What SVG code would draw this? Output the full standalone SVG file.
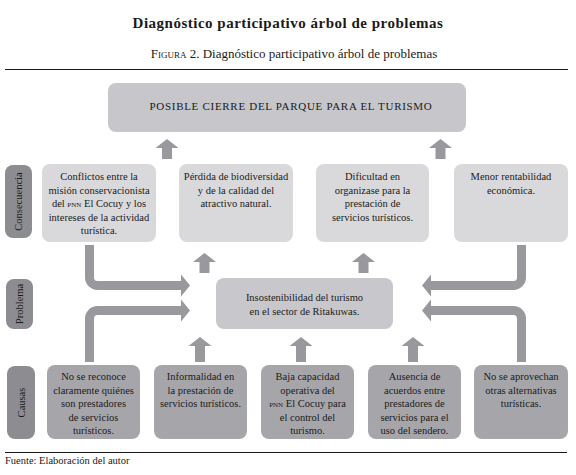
<svg xmlns="http://www.w3.org/2000/svg" width="576" height="475" viewBox="0 0 576 475" font-family="'Liberation Serif', 'DejaVu Serif', serif">
<defs>
<style>
text{font-family:'Liberation Serif','DejaVu Serif',serif;fill:#1a1a1a}
.t{font-size:10.5px;text-anchor:middle}
.lab{font-size:10.5px;text-anchor:middle}
.top{fill:#c6c6cb}
.cons{fill:#d9d9dc}
.prob{fill:#c8c8cc}
.cause{fill:#a6a6aa}
.label{fill:#8d8d91}
.shaft{fill:none;stroke:#99999d;stroke-width:9}
.head{fill:#99999d}
.sc{font-variant:small-caps}
</style>
<path id="upS" d="M-11.5 9 L0 0 L11.5 9 L5 9 L5 20 L-5 20 L-5 9 Z" fill="#99999d"/>
<path id="upL" d="M-11.5 9 L0 0 L11.5 9 L5 9 L5 25 L-5 25 L-5 9 Z" fill="#99999d"/>
</defs>
<rect width="576" height="475" fill="#ffffff"/>
<text x="288" y="28" style="font-size:15px;font-weight:bold;text-anchor:middle;letter-spacing:0.5px">Diagnóstico participativo árbol de problemas</text>
<text x="294" y="58" style="font-size:13px;text-anchor:middle"><tspan class="sc">Figura</tspan> 2. Diagnóstico participativo árbol de problemas</text>
<line x1="5" y1="69.5" x2="568" y2="69.5" stroke="#1a1a1a" stroke-width="1"/>

<g id="connectors">
<use href="#upS" x="167" y="139"/>
<use href="#upS" x="440.5" y="139"/>
<use href="#upS" x="204.5" y="253"/>
<use href="#upS" x="363.5" y="253"/>
<use href="#upL" x="200" y="337"/>
<use href="#upL" x="301" y="337"/>
<use href="#upL" x="413" y="337"/>
<path class="shaft" d="M89.5 245 V277.5 A8 8 0 0 0 97.5 285.5 H183"/>
<polygon class="head" points="181,274.5 190,285.5 181,296.5"/>
<path class="shaft" d="M89.5 362 V318.5 A8 8 0 0 1 97.5 310.5 H183"/>
<polygon class="head" points="181,299.5 190,310.5 181,321.5"/>
<path class="shaft" d="M521.5 245 V277.5 A8 8 0 0 1 513.5 285.5 H429"/>
<polygon class="head" points="431,274.5 422,285.5 431,296.5"/>
<path class="shaft" d="M521.5 362 V318.5 A8 8 0 0 0 513.5 310.5 H429"/>
<polygon class="head" points="431,299.5 422,310.5 431,321.5"/>
</g>

<g id="top">
<rect class="top" x="108" y="83" width="358" height="49" rx="8"/>
<text class="t" x="291" y="110" style="font-size:11px;letter-spacing:0.7px">POSIBLE CIERRE DEL PARQUE PARA EL TURISMO</text>
</g>

<g id="lab-consecuencia">
<rect class="label" x="5" y="165" width="27" height="73" rx="8"/>
<text class="lab" transform="translate(22 201.5) rotate(-90)">Consecuencia</text>
</g>
<g id="lab-problema">
<rect class="label" x="6" y="279" width="27" height="50" rx="8"/>
<text class="lab" transform="translate(23 304) rotate(-90)">Problema</text>
</g>
<g id="lab-causas">
<rect class="label" x="7" y="366" width="28" height="73" rx="8"/>
<text class="lab" transform="translate(24.5 402.5) rotate(-90)">Causas</text>
</g>

<g id="cons1">
<rect class="cons" x="42" y="164" width="114" height="78" rx="8"/>
<text class="t" x="99" y="180">Conflictos entre la</text>
<text class="t" x="99" y="193.5">misión conservacionista</text>
<text class="t" x="99" y="207">del <tspan class="sc">pnn</tspan> El Cocuy y los</text>
<text class="t" x="99" y="220.5">intereses de la actividad</text>
<text class="t" x="99" y="234">turística.</text>
</g>
<g id="cons2">
<rect class="cons" x="179" y="164" width="114" height="78" rx="8"/>
<text class="t" x="236" y="180">Pérdida de biodiversidad</text>
<text class="t" x="236" y="193.5">y de la calidad del</text>
<text class="t" x="236" y="207">atractivo natural.</text>
</g>
<g id="cons3">
<rect class="cons" x="316" y="164" width="113" height="78" rx="8"/>
<text class="t" x="372.5" y="180">Dificultad en</text>
<text class="t" x="372.5" y="193.5">organizase para la</text>
<text class="t" x="372.5" y="207">prestación de</text>
<text class="t" x="372.5" y="220.5">servicios turísticos.</text>
</g>
<g id="cons4">
<rect class="cons" x="454" y="164" width="114" height="78" rx="8"/>
<text class="t" x="511" y="180">Menor rentabilidad</text>
<text class="t" x="511" y="193.5">económica.</text>
</g>

<g id="problema">
<rect class="prob" x="216" y="278" width="177" height="51" rx="8"/>
<text class="t" x="304.5" y="301">Insostenibilidad del turismo</text>
<text class="t" x="304.5" y="314.5">en el sector de Ritakuwas.</text>
</g>

<g id="causa1">
<rect class="cause" x="47" y="365" width="93" height="74" rx="8"/>
<text class="t" x="93.5" y="380">No se reconoce</text>
<text class="t" x="93.5" y="393.5">claramente quiénes</text>
<text class="t" x="93.5" y="407">son prestadores</text>
<text class="t" x="93.5" y="420.5">de servicios</text>
<text class="t" x="93.5" y="434">turísticos.</text>
</g>
<g id="causa2">
<rect class="cause" x="154" y="365" width="93" height="74" rx="8"/>
<text class="t" x="200.5" y="380">Informalidad en</text>
<text class="t" x="200.5" y="393.5">la prestación de</text>
<text class="t" x="200.5" y="407">servicios turísticos.</text>
</g>
<g id="causa3">
<rect class="cause" x="261" y="365" width="93" height="74" rx="8"/>
<text class="t" x="307.5" y="380">Baja capacidad</text>
<text class="t" x="307.5" y="393.5">operativa del</text>
<text class="t" x="307.5" y="407"><tspan class="sc">pnn</tspan> El Cocuy para</text>
<text class="t" x="307.5" y="420.5">el control del</text>
<text class="t" x="307.5" y="434">turismo.</text>
</g>
<g id="causa4">
<rect class="cause" x="368" y="365" width="93" height="74" rx="8"/>
<text class="t" x="414.5" y="380">Ausencia de</text>
<text class="t" x="414.5" y="393.5">acuerdos entre</text>
<text class="t" x="414.5" y="407">prestadores de</text>
<text class="t" x="414.5" y="420.5">servicios para el</text>
<text class="t" x="414.5" y="434">uso del sendero.</text>
</g>
<g id="causa5">
<rect class="cause" x="474" y="365" width="94" height="74" rx="8"/>
<text class="t" x="521" y="380">No se aprovechan</text>
<text class="t" x="521" y="393.5">otras alternativas</text>
<text class="t" x="521" y="407">turísticas.</text>
</g>

<line x1="5" y1="452.5" x2="567" y2="452.5" stroke="#1a1a1a" stroke-width="1"/>
<text x="5" y="464" style="font-size:10.5px">Fuente: Elaboración del autor</text>
</svg>
